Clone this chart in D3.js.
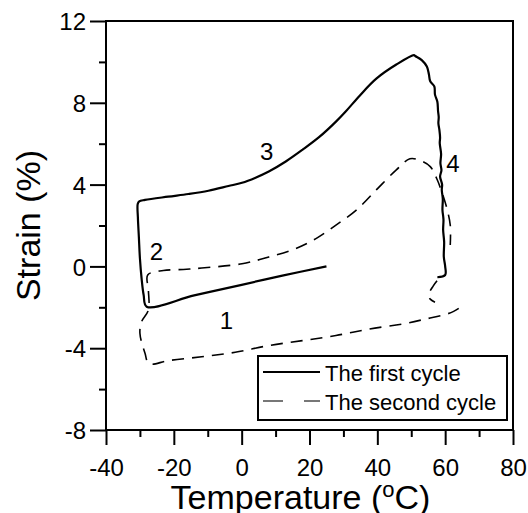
<!DOCTYPE html>
<html>
<head>
<meta charset="utf-8">
<script src="https://cdn.jsdelivr.net/npm/d3@7"></script>
<style>
  html, body { margin: 0; padding: 0; background: #fff; }
  svg { display: block; }
  text { font-family: "Liberation Sans", Arial, Helvetica, sans-serif; fill: #000; }
</style>
</head>
<body>
<svg id="chart" width="528" height="513"></svg>
<script>
// ---- data ----
const xMajorTicks = [-40, -20, 0, 20, 40, 60, 80];
const xMinorTicks = [-30, -10, 10, 30, 50, 70];
const yMajorTicks = [-8, -4, 0, 4, 8, 12];
const yMinorTicks = [-6, -2, 2, 6, 10];

// first cycle (solid): temperature (°C) and strain (%)
const cycle1T = [25, 12, 0, -14, -28,
  -28.9, -29.5, -30, -30.3, -30.6, -30.65, -30.2, -28.5,
  -21.7, -15.7, -9.8, -3.9, 0.1, 4.1, 8.0, 13.0, 17.9, 22.9, 27.8, 30.8, 34.8, 39.7, 45.6, 50.8,
  51.15, 53.1, 54.6, 55.2, 55.6, 56.8, 57.0, 57.7, 57.9, 58.1, 58.0, 58.3, 58.5, 58.4, 58.8, 58.6,
  58.9, 58.5, 59.1, 59.0, 59.3, 59.2, 59.5, 59.4, 59.7, 59.6, 60.0, 60.0, 57.7];
const cycle1S = [0, -0.45, -0.9, -1.42, -1.97,
  -1.4, -0.6, 0.4, 1.4, 2.4, 3.05, 3.18, 3.25,
  3.41, 3.54, 3.7, 3.93, 4.09, 4.34, 4.64, 5.13, 5.7, 6.33, 7.08, 7.6, 8.35, 9.18, 9.87, 10.33,
  10.29, 10.09, 9.77, 9.4, 9.05, 8.8, 8.4, 8.05, 7.6, 7.3, 7.0, 6.67, 6.3, 6.02, 5.5, 5.04,
  4.7, 4.39, 4.0, 3.74, 3.3, 2.76, 2.3, 1.78, 1.2, 0.47, 0.0, -0.42, -0.53];

// second cycle (dashed); null marks a gap in the trace
const cycle2T = [57.6, 56.5, 55.1, 55.6, 57, null,
  64, 62.5, 60.5, 54.6, 47.6, 37.7, 27.8, 17.9, 8.0, -1.9, -11.8, -21.7, -27.3,
  -28.5, -30, -29.5, -27.5, -27.5, -27.7,
  -23.1, -17.2, -11.8, 0.1, 8.0, 15.9, 21.9, 27.8, 33.8, 39.7, 45.6, 49.6, 52.6, 55.6,
  57.5, 59, 60.5, 61.5, 61.5];
const cycle2S = [-0.7, -0.95, -1.4, -1.6, -1.75, null,
  -2.05, -2.2, -2.33, -2.56, -2.81, -3.06, -3.38, -3.63, -3.87, -4.2, -4.42, -4.61, -4.76,
  -4.25, -3.27, -2.7, -2.13, -1.15, -0.42,
  -0.2, -0.15, -0.08, 0.13, 0.46, 0.87, 1.36, 2.02, 2.75, 3.74, 4.72, 5.26, 5.18, 4.88,
  4.3, 3.65, 2.84, 2.02, 1.05];

// step annotations
const stepLabels = ["1", "2", "3", "4"];
const stepT = [-4.5, -25.1, 7.4, 62.3];
const stepS = [-3.08, 0.31, 5.2, 4.63];

const legendLabels = ["The first cycle", "The second cycle"];

// ---- drawing ----
const svg = d3.select("#chart");
const x = d3.scaleLinear().domain([-40, 80]).range([106, 513]);
const y = d3.scaleLinear().domain([-8, 12]).range([430, 21]);

const font = '"Liberation Sans", Arial, Helvetica, sans-serif';
const fmt = d => String(d);

// axes
const xAxis = svg.append("g").attr("transform", `translate(0,${y(-8)})`)
  .call(d3.axisBottom(x).tickValues(xMajorTicks).tickSize(15).tickPadding(14).tickFormat(fmt));
const xMinor = svg.append("g").attr("transform", `translate(0,${y(-8)})`)
  .call(d3.axisBottom(x).tickValues(xMinorTicks).tickSize(7).tickFormat(""));
const yAxis = svg.append("g").attr("transform", `translate(${x(-40)},0)`)
  .call(d3.axisLeft(y).tickValues(yMajorTicks).tickSize(16).tickPadding(4).tickFormat(fmt));
const yMinor = svg.append("g").attr("transform", `translate(${x(-40)},0)`)
  .call(d3.axisLeft(y).tickValues(yMinorTicks).tickSize(7).tickFormat(""));

[xAxis, xMinor, yAxis, yMinor].forEach(g => {
  g.select(".domain").remove();
  g.selectAll(".tick line").attr("stroke", "#000").attr("stroke-width", 2);
  g.selectAll(".tick text").attr("font-family", font).attr("font-size", 24).attr("fill", "#000");
});
yAxis.selectAll(".tick text").attr("dy", "0.36em");

// frame
svg.append("rect")
  .attr("x", x(-40)).attr("y", y(12))
  .attr("width", x(80) - x(-40)).attr("height", y(-8) - y(12))
  .attr("fill", "none").attr("stroke", "#000").attr("stroke-width", 2);

// axis titles
const xt = svg.append("text")
  .attr("x", (x(-40) + x(80)) / 2 - 9).attr("y", 509)
  .attr("text-anchor", "middle").attr("font-size", 34).attr("font-family", font);
xt.append("tspan").text("Temperature (");
xt.append("tspan").attr("font-size", 22).attr("dy", -12).text("o");
xt.append("tspan").attr("dy", 12).text("C)");

svg.append("text")
  .attr("transform", `translate(40,${(y(12) + y(-8)) / 2}) rotate(-90)`)
  .attr("text-anchor", "middle").attr("font-size", 34).attr("font-family", font)
  .text("Strain (%)");

// curves
const pts1 = cycle1T.map((t, i) => [t, cycle1S[i]]);
const pts2 = cycle2T.map((t, i) => [t, cycle2S[i]]);
const line = d3.line()
  .defined(d => d[0] !== null && d[1] !== null)
  .curve(d3.curveCatmullRom.alpha(0.5))
  .x(d => x(d[0])).y(d => y(d[1]));

svg.append("path").datum(pts1).attr("d", line)
  .attr("fill", "none").attr("stroke", "#000").attr("stroke-width", 2.2)
  .attr("stroke-linejoin", "round");
svg.append("path").datum(pts2).attr("d", line)
  .attr("fill", "none").attr("stroke", "#000").attr("stroke-width", 1.6)
  .attr("stroke-dasharray", "12,8");

// step labels
svg.selectAll("text.step").data(stepLabels).enter().append("text")
  .attr("class", "step")
  .attr("x", (d, i) => x(stepT[i])).attr("y", (d, i) => y(stepS[i]))
  .attr("text-anchor", "middle").attr("font-size", 24).attr("font-family", font)
  .text(d => d);

// legend
const lg = svg.append("g");
lg.append("rect").attr("x", 258).attr("y", 356).attr("width", 249).attr("height", 64)
  .attr("fill", "#fff").attr("stroke", "#000").attr("stroke-width", 2);
lg.append("line").attr("x1", 263).attr("x2", 320).attr("y1", 372).attr("y2", 372)
  .attr("stroke", "#000").attr("stroke-width", 2.2);
lg.append("line").attr("x1", 263).attr("x2", 283).attr("y1", 401).attr("y2", 401)
  .attr("stroke", "#555").attr("stroke-width", 1.6);
lg.append("line").attr("x1", 304).attr("x2", 320).attr("y1", 401).attr("y2", 401)
  .attr("stroke", "#555").attr("stroke-width", 1.6);
lg.selectAll("text.leg").data(legendLabels).enter().append("text")
  .attr("class", "leg")
  .attr("x", 325).attr("y", (d, i) => 381 + i * 28.5)
  .attr("font-size", 22).attr("font-family", font)
  .text(d => d);
</script>
</body>
</html>
